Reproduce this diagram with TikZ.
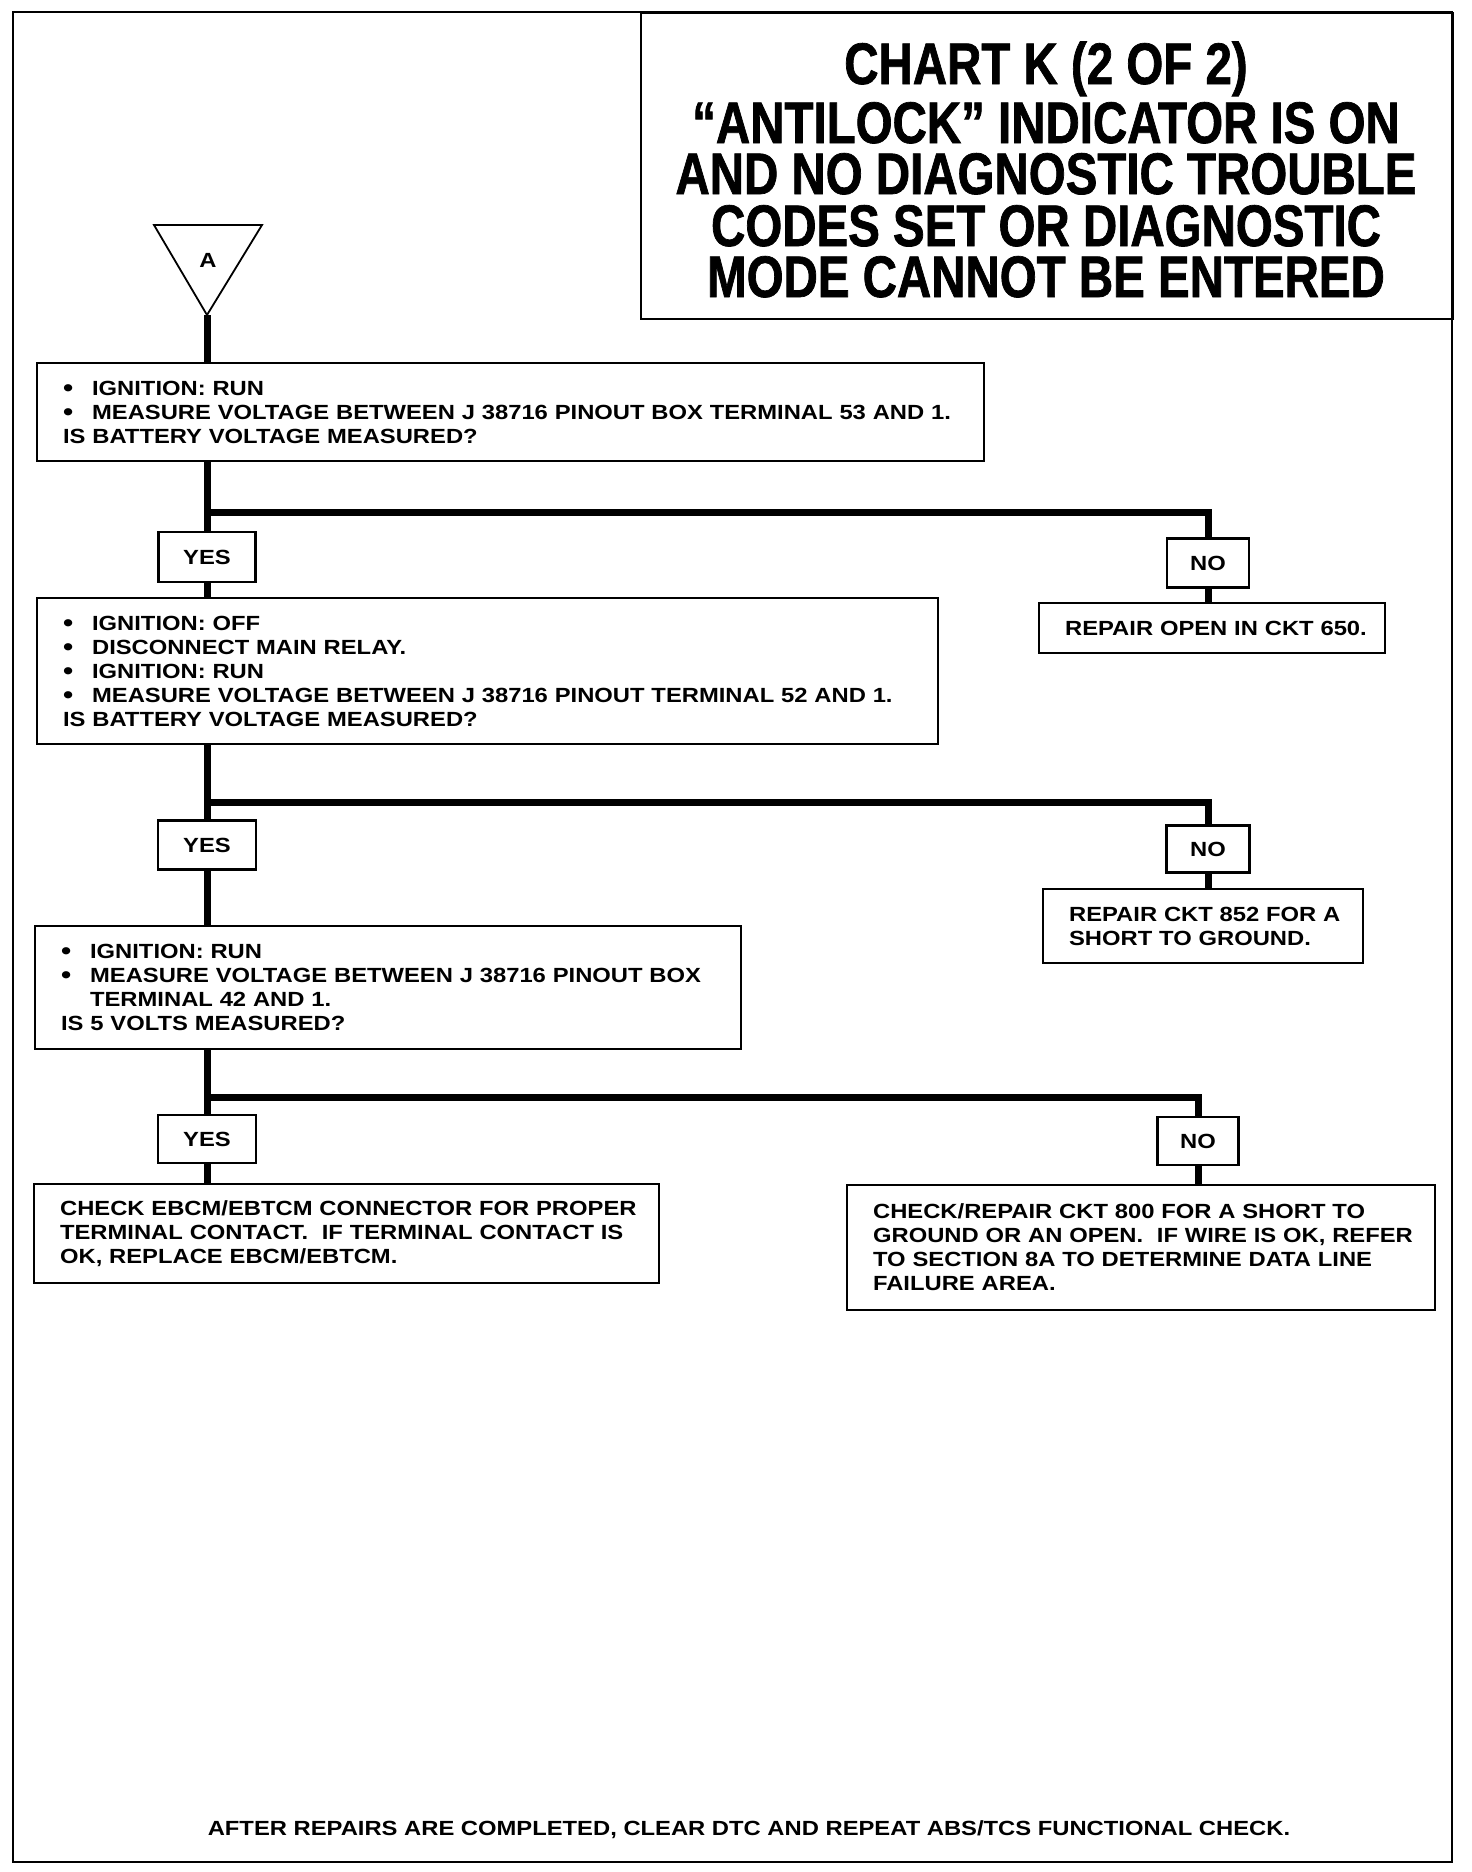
\documentclass[tikz,border=0pt]{standalone}
\usepackage{fontspec}
\setmainfont{Liberation Sans}
\newfontfamily\bodyfont{Liberation Sans}[FakeStretch=1.16]
\newfontfamily\titlefont{Liberation Sans}[FakeStretch=0.81,FakeBold=1.2]
\newcommand\bul{\makebox[29pt][l]{\raisebox{-1pt}{\fontsize{25}{24}\selectfont\textbullet}}}
\newcommand\li[1]{\mbox{#1}}
\begin{document}
\begin{tikzpicture}[x=1pt,y=-1pt,
  box/.style={draw, line width=2.2pt, anchor=north west, inner xsep=26pt, inner ysep=0pt,
    align=left, font=\bodyfont\bfseries\fontsize{20.5}{24}\selectfont},
  lab/.style={draw, line width=2.2pt, inner sep=0pt,
    font=\bodyfont\bfseries\fontsize{20.5}{24}\selectfont},
  ttl/.style={anchor=base, inner sep=0pt, text height=42pt, text depth=1pt,
    font=\titlefont\bfseries\fontsize{58.6}{50}\selectfont},
  conn/.style={line width=7pt}]
\useasboundingbox (0,0) rectangle (1472,1872);
% outer frame
\draw[line width=2.5pt] (13,12) rectangle (1452,1862);
% title box
\node[draw, line width=2pt, anchor=north west, minimum width=812pt, minimum height=306pt, inner sep=0pt] (title) at (640,12) {};
\node[ttl] (t1) at (1046,84) {CHART K (2 OF 2)};
\node[ttl] (t2) at (1046,143) {“ANTILOCK” INDICATOR IS ON};
\node[ttl] (t3) at (1046,194) {AND NO DIAGNOSTIC TROUBLE};
\node[ttl] (t4) at (1046,246) {CODES SET OR DIAGNOSTIC};
\node[ttl] (t5) at (1046,297) {MODE CANNOT BE ENTERED};
% entry triangle
\coordinate (apex) at (207,315);
\draw[line width=1.8pt, line join=miter] (154,225) -- (262,225) -- (apex) -- cycle;
\node[font=\bodyfont\bfseries\fontsize{20.5}{24}\selectfont, inner sep=0pt] (tA) at (208,260) {A};
% boxes
\node[box, text width=895pt, minimum height=98pt] (b1) at (36,362) {%
\li{\bul IGNITION: RUN}\\
\li{\bul MEASURE VOLTAGE BETWEEN J 38716 PINOUT BOX TERMINAL 53 AND 1.}\\
\li{IS BATTERY VOLTAGE MEASURED?}};
\node[lab, minimum width=97pt, minimum height=50pt] (y1) at (207,557) {YES};
\node[lab, minimum width=82pt, minimum height=49pt] (n1) at (1208,563) {NO};
\node[box, text width=294pt, minimum height=50pt] (r1) at (1038,602) {%
\li{REPAIR OPEN IN CKT 650.}};
\node[box, text width=849pt, minimum height=146pt] (b2) at (36,597) {%
\li{\bul IGNITION: OFF}\\
\li{\bul DISCONNECT MAIN RELAY.}\\
\li{\bul IGNITION: RUN}\\
\li{\bul MEASURE VOLTAGE BETWEEN J 38716 PINOUT TERMINAL 52 AND 1.}\\
\li{IS BATTERY VOLTAGE MEASURED?}};
\node[lab, minimum width=98pt, minimum height=49pt] (y2) at (207,845) {YES};
\node[lab, minimum width=83pt, minimum height=47pt] (n2) at (1208,849) {NO};
\node[box, text width=268pt, minimum height=74pt] (r2) at (1042,888) {%
\li{REPAIR CKT 852 FOR A}\\
\li{SHORT TO GROUND.}};
\node[box, text width=654pt, minimum height=123pt] (b3) at (34,925) {%
\li{\bul IGNITION: RUN}\\
\li{\bul MEASURE VOLTAGE BETWEEN J 38716 PINOUT BOX}\\
\li{\hspace*{29pt}TERMINAL 42 AND 1.}\\
\li{IS 5 VOLTS MEASURED?}};
\node[lab, minimum width=98pt, minimum height=48pt] (y3) at (207,1139) {YES};
\node[lab, minimum width=81pt, minimum height=48pt] (n3) at (1198,1141) {NO};
\node[box, text width=573pt, minimum height=99pt] (b4) at (33,1183) {%
\li{CHECK EBCM/EBTCM CONNECTOR FOR PROPER}\\
\li{TERMINAL CONTACT.~~IF TERMINAL CONTACT IS}\\
\li{OK, REPLACE EBCM/EBTCM.}};
\node[box, text width=536pt, minimum height=125pt] (b5) at (846,1184) {%
\li{CHECK/REPAIR CKT 800 FOR A SHORT TO}\\
\li{GROUND OR AN OPEN.~~IF WIRE IS OK, REFER}\\
\li{TO SECTION 8A TO DETERMINE DATA LINE}\\
\li{FAILURE AREA.}};
\node[font=\bodyfont\bfseries\fontsize{20.5}{24}\selectfont, inner sep=0pt] (foot) at (749,1830)
  {AFTER REPAIRS ARE COMPLETED, CLEAR DTC AND REPEAT ABS/TCS FUNCTIONAL CHECK.};
% junctions
\coordinate (j1) at (207,512);
\coordinate (j2) at (207,802);
\coordinate (j3) at (207,1097);
% connectors
\draw[conn] (apex) -- (apex |- b1.north);
\draw[conn] (b1.south -| y1.north) -- (y1.north);
\draw[conn] (j1) -| (n1.north);
\draw[conn] (y1.south) -- (y1.south |- b2.north);
\draw[conn] (n1.south) -- (n1.south |- r1.north);
\draw[conn] (b2.south -| y2.north) -- (y2.north);
\draw[conn] (j2) -| (n2.north);
\draw[conn] (y2.south) -- (y2.south |- b3.north);
\draw[conn] (n2.south) -- (n2.south |- r2.north);
\draw[conn] (b3.south -| y3.north) -- (y3.north);
\draw[conn] (j3) -| (n3.north);
\draw[conn] (y3.south) -- (y3.south |- b4.north);
\draw[conn] (n3.south) -- (n3.south |- b5.north);
\end{tikzpicture}
\end{document}
